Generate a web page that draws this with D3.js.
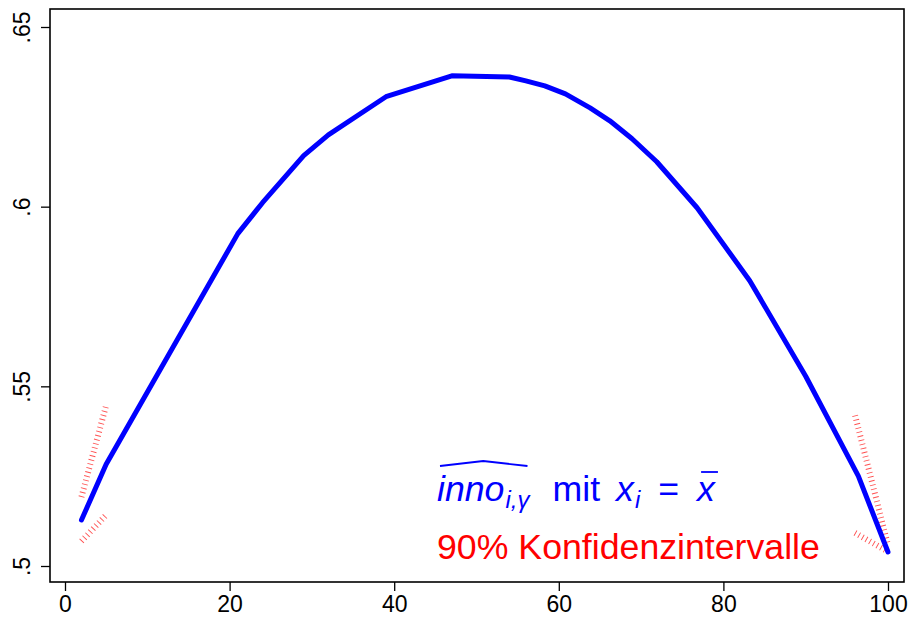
<!DOCTYPE html>
<html><head><meta charset="utf-8">
<script src="https://cdn.jsdelivr.net/npm/d3@7"></script>
<style>body{margin:0;background:#fff}svg{display:block}</style>
</head><body>
<script>
// Data
const xVals = [2, 5, 21, 24, 29, 32, 39, 47, 54, 56, 58.3, 60.8, 63.8, 66.2, 68.9, 71.9, 76.8, 83.2, 90, 96.4, 100];
const yVals = [0.5128, 0.5283, 0.5925, 0.6011, 0.6142, 0.6200, 0.6306, 0.6364, 0.6361, 0.6350, 0.6336, 0.6314, 0.6275, 0.6239, 0.6189, 0.6125, 0.5997, 0.5794, 0.5528, 0.5250, 0.5039];
const ciLeftX = [2, 5];
const ciLeftUpper = [0.5192, 0.5447];
const ciLeftLower = [0.5069, 0.5142];
const ciRightX = [96, 100];
const ciRightUpper = [0.5419, 0.5058];
const ciRightLower = [0.5092, 0.5040];
const xTicks = [0, 20, 40, 60, 80, 100];
const yTicks = [0.5, 0.55, 0.6, 0.65];
const yTickLabels = [".5", ".55", ".6", ".65"];

const W = 911, H = 619;
const svg = d3.select("body").append("svg").attr("width", W).attr("height", H);
const x = d3.scaleLinear().domain([0, 100]).range([65, 888]);
const y = d3.scaleLinear().domain([0.5, 0.65]).range([566, 27]);
const frame = {l: 50, r: 904, t: 9, b: 582};

svg.append("rect").attr("x", frame.l).attr("y", frame.t)
  .attr("width", frame.r - frame.l).attr("height", frame.b - frame.t)
  .attr("fill", "#fff").attr("stroke", "#000").attr("stroke-width", 1.6);

// axes
const xAxis = d3.axisBottom(x).tickValues(xTicks).tickSize(9).tickPadding(5);
const gx = svg.append("g").attr("transform", `translate(0,${frame.b})`).call(xAxis);
gx.select(".domain").remove();
gx.selectAll("line").attr("stroke", "#000").attr("stroke-width", 1.3);
gx.selectAll("text").attr("font-family", "Liberation Sans, Arial, sans-serif").attr("font-size", 23).attr("fill", "#000");

const yAxis = d3.axisLeft(y).tickValues(yTicks).tickSize(9).tickFormat((d, i) => yTickLabels[i]);
const gy = svg.append("g").attr("transform", `translate(${frame.l},0)`).call(yAxis);
gy.select(".domain").remove();
gy.selectAll("line").attr("stroke", "#000").attr("stroke-width", 1.3);
gy.selectAll("text").attr("font-family", "Liberation Sans, Arial, sans-serif").attr("font-size", 23).attr("fill", "#000")
  .attr("text-anchor", "middle").attr("x", 0).attr("dy", 0)
  .attr("transform", "translate(-20,0) rotate(-90)");

// CI lines
function ci(xs, ys) {
  const line = d3.line().x((d, i) => x(xs[i])).y(d => y(d));
  svg.append("path").datum(ys).attr("d", line).attr("fill", "none")
    .attr("stroke", "#ff3030").attr("stroke-width", 6).attr("stroke-dasharray", "0.9 3.3")
    .attr("stroke-opacity", 0.85);
}
ci(ciLeftX, ciLeftUpper);
ci(ciLeftX, ciLeftLower);
ci(ciRightX, ciRightUpper);
ci(ciRightX, ciRightLower);

// main line
const mainLine = d3.line().x((d, i) => x(xVals[i])).y(d => y(d));
svg.append("path").datum(yVals).attr("d", mainLine).attr("fill", "none")
  .attr("stroke", "#0000ff").attr("stroke-width", 5).attr("stroke-linejoin", "round").attr("stroke-linecap", "round");

// legend
const fam = "Liberation Sans, Arial, sans-serif";
const fs = 35.7, sfs = 24;
let cx = 437;
const by = 501;
function piece(txt, opts) {
  const t = svg.append("text").attr("x", cx).attr("y", by + (opts.dy || 0))
    .attr("font-family", fam).attr("font-size", opts.size || fs)
    .attr("fill", opts.color || "#0000ff")
    .attr("font-style", opts.italic ? "italic" : "normal")
    .attr("xml:space", "preserve")
    .text(txt);
  const w = t.node().getComputedTextLength();
  const start = cx;
  cx += w + (opts.after || 0);
  return {start, end: start + w};
}
const p1 = piece("inno", {italic: true, after: 1});
const p2 = piece("i,γ", {italic: true, size: sfs, dy: 7, after: 23});
piece("mit", {after: 16});
piece("x", {italic: true, after: 1});
piece("i", {italic: true, size: sfs, dy: 7, after: 18});
piece("=", {after: 18});
const pxbar = piece("x", {italic: true});
// hat
svg.append("path").attr("d", `M${p1.start + 3},${by - 35} L${(p1.start + p2.end) / 2},${by - 40} L${p2.end - 2},${by - 35}`)
  .attr("fill", "none").attr("stroke", "#0000ff").attr("stroke-width", 1.8);
// overline
svg.append("line").attr("x1", pxbar.start + 4).attr("x2", pxbar.end + 3).attr("y1", by - 29).attr("y2", by - 29)
  .attr("stroke", "#0000ff").attr("stroke-width", 1.8);

svg.append("text").attr("x", 437).attr("y", 559).attr("font-family", fam).attr("font-size", fs)
  .attr("fill", "#ff0000").text("90% Konfidenzintervalle");
</script>
</body></html>
